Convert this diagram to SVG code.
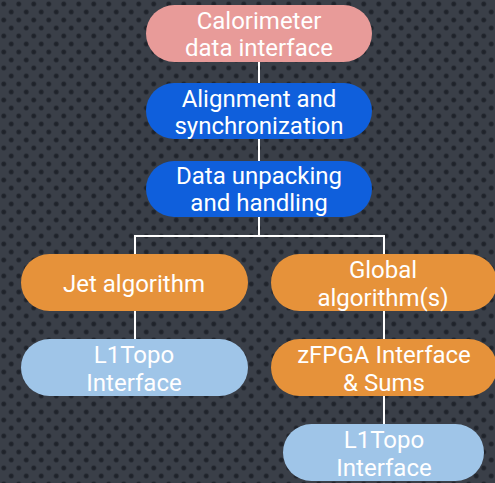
<svg xmlns="http://www.w3.org/2000/svg" width="495" height="483" viewBox="0 0 495 483">
<defs>
<radialGradient id="dg">
<stop offset="0" stop-color="#1c2027"/>
<stop offset="0.55" stop-color="#242830"/>
<stop offset="1" stop-color="#3a3f48" stop-opacity="0"/>
</radialGradient>
<pattern id="bgp" width="15" height="16" patternUnits="userSpaceOnUse">
<rect width="15" height="16" fill="#3a3f48"/>
<circle cx="3.75" cy="4" r="3.6" fill="url(#dg)"/>
<circle cx="11.25" cy="12" r="3.6" fill="url(#dg)"/>
</pattern>
<style>
.t{font-family:Roboto,"Liberation Sans",sans-serif;font-size:24px;font-weight:400;fill:#ffffff;text-anchor:middle}
.c{stroke:#ffffff;stroke-width:2;fill:none}
.pink{fill:#e89b99}
.blue{fill:#0f5fdc}
.org{fill:#e6923a}
.lb{fill:#9fc5e8}
</style>
</defs>
<rect width="495" height="483" fill="url(#bgp)"/>
<g id="connectors">
<line class="c" x1="259" y1="62" x2="259" y2="83"/>
<line class="c" x1="259" y1="139" x2="259" y2="161"/>
<polyline class="c" points="259,217 259,236"/>
<polyline class="c" points="135,254 135,236 384,236 384,254"/>
<line class="c" x1="135" y1="311" x2="135" y2="339"/>
<line class="c" x1="384" y1="311" x2="384" y2="339"/>
<line class="c" x1="384" y1="396" x2="384" y2="424"/>
</g>
<g id="calorimeter">
<rect class="pink" x="146" y="5" width="226" height="57" rx="28.5"/>
<text class="t" x="259" y="29">Calorimeter</text>
<text class="t" x="259" y="56">data interface</text>
</g>
<g id="alignment">
<rect class="blue" x="146" y="83" width="226" height="56" rx="28"/>
<text class="t" x="259" y="107">Alignment and</text>
<text class="t" x="259" y="134">synchronization</text>
</g>
<g id="unpacking">
<rect class="blue" x="146" y="161" width="226" height="56" rx="28"/>
<text class="t" x="259" y="184">Data unpacking</text>
<text class="t" x="259" y="211">and handling</text>
</g>
<g id="jet">
<rect class="org" x="21" y="254" width="227" height="57" rx="28.5"/>
<text class="t" x="134" y="292">Jet algorithm</text>
</g>
<g id="global">
<rect class="org" x="271" y="254" width="226" height="57" rx="28.5"/>
<text class="t" x="383" y="278">Global</text>
<text class="t" x="383" y="306">algorithm(s)</text>
</g>
<g id="l1topo-left">
<rect class="lb" x="21" y="339" width="227" height="57" rx="28.5"/>
<text class="t" x="134" y="363">L1Topo</text>
<text class="t" x="134" y="391">Interface</text>
</g>
<g id="zfpga">
<rect class="org" x="271" y="339" width="226" height="57" rx="28.5"/>
<text class="t" x="384" y="363">zFPGA Interface</text>
<text class="t" x="384" y="391">&amp; Sums</text>
</g>
<g id="l1topo-right">
<rect class="lb" x="283" y="424" width="201" height="57" rx="28.5"/>
<text class="t" x="384" y="448">L1Topo</text>
<text class="t" x="384" y="476">Interface</text>
</g>
</svg>
